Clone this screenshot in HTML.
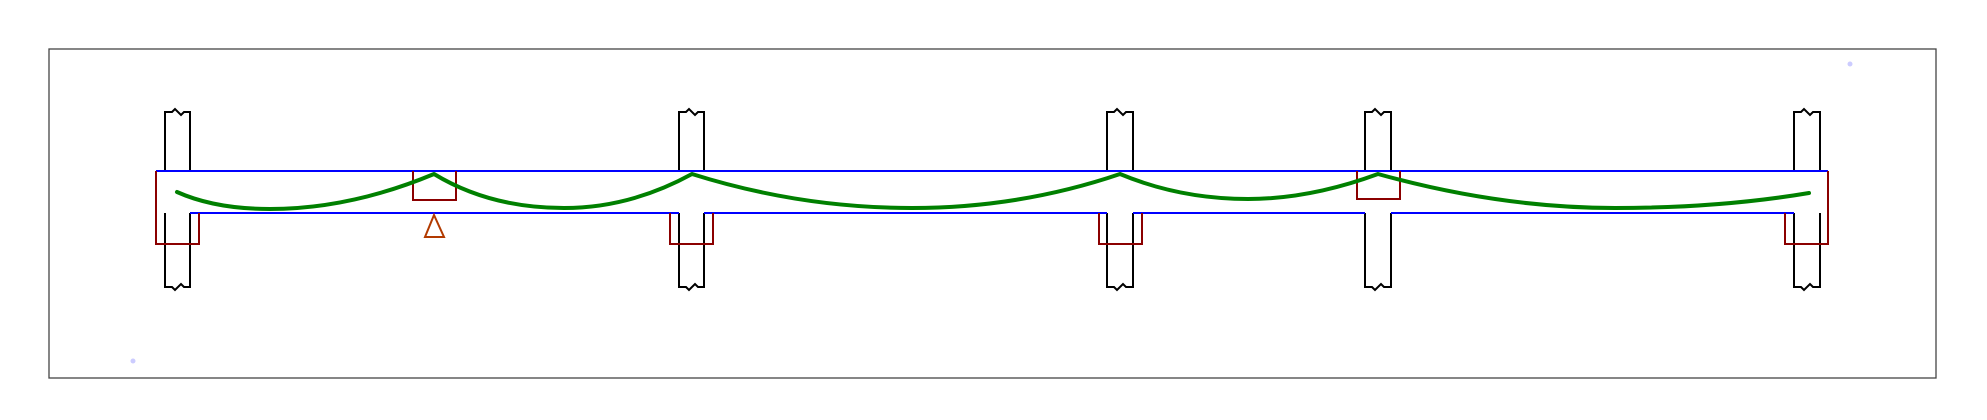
<!DOCTYPE html>
<html><head><meta charset="utf-8"><style>html,body{margin:0;padding:0;background:#fff;}svg{display:block}</style></head>
<body>
<svg width="1987" height="420" viewBox="0 0 1987 420" xmlns="http://www.w3.org/2000/svg">
<rect x="49" y="49" width="1887" height="329" fill="none" stroke="#444" stroke-width="1.3"/>
<circle cx="1850" cy="64" r="2.5" fill="#ccf"/>
<circle cx="133" cy="361" r="2.5" fill="#ccf"/>
<g fill="none" stroke="#000" stroke-width="2">
<path d="M165 171 V112 H172 L175 109 L181 115 L184 112 H190 V171"/>
<path d="M165 213 V287 H172 L175 290 L181 284 L184 287 H190 V213"/>
<path d="M679 171 V112 H686 L689 109 L695 115 L698 112 H704 V171"/>
<path d="M679 213 V287 H686 L689 290 L695 284 L698 287 H704 V213"/>
<path d="M1107 171 V112 H1114 L1117 109 L1123 115 L1126 112 H1133 V171"/>
<path d="M1107 213 V287 H1114 L1117 290 L1123 284 L1126 287 H1133 V213"/>
<path d="M1365 171 V112 H1372 L1375 109 L1381 115 L1384 112 H1391 V171"/>
<path d="M1365 213 V287 H1372 L1375 290 L1381 284 L1384 287 H1391 V213"/>
<path d="M1794 171 V112 H1801 L1804 109 L1810 115 L1813 112 H1820 V171"/>
<path d="M1794 213 V287 H1801 L1804 290 L1810 284 L1813 287 H1820 V213"/>
</g>
<g stroke="#00f" stroke-width="2" fill="none">
<line x1="156" y1="171" x2="1828" y2="171"/>
<path d="M190 213 H679 M704 213 H1107 M1133 213 H1365 M1391 213 H1794"/>
</g>
<g fill="none" stroke="#8b0000" stroke-width="2">
<path d="M156 171 V244 H199 V213"/>
<path d="M1785 213 V244 H1828 V171"/>
<path d="M670 213 V244 H713 V213"/>
<path d="M1099 213 V244 H1142 V213"/>
<path d="M413 171 V200 H456 V171"/>
<path d="M1357 171 V199 H1400 V171"/>
</g>
<path d="M434 215 L425 237 H444 Z" fill="none" stroke="#b23a00" stroke-width="2"/>
<path d="M177 192 Q215 209 270 209 Q350 209 434 174 Q490 208 564 208 Q630 208 692 174 Q800 208 912 208 Q1020 208 1120 174 Q1180 199 1248 199 Q1310 199 1378 174 Q1500 208 1615 208 Q1720 208 1809 193" fill="none" stroke="#008000" stroke-width="4" stroke-linecap="round" stroke-linejoin="round"/>
</svg>
</body></html>
